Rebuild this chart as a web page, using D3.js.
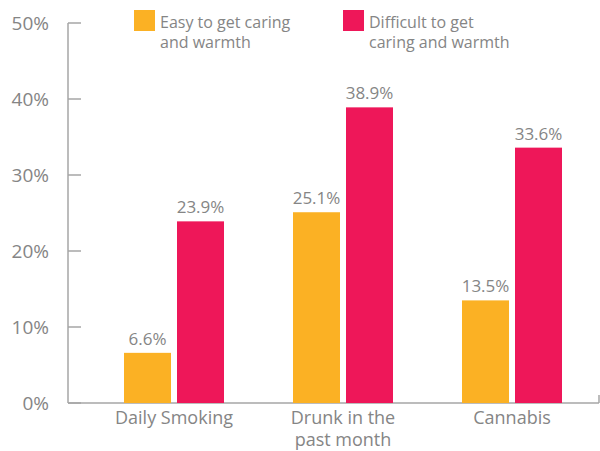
<!DOCTYPE html>
<html>
<head>
<meta charset="utf-8">
<script src="https://cdn.jsdelivr.net/npm/d3@7"></script>
<style>
  body { margin: 0; background: #fff; }
  svg text { font-family: "Open Sans", sans-serif; fill: #858585; }
</style>
</head>
<body>
<svg id="chart" width="600" height="451"></svg>
<script>
// data
const categories = [["Daily Smoking"], ["Drunk in the", "past month"], ["Cannabis"]];
const seriesNames = [["Easy to get caring", "and warmth"], ["Difficult to get", "caring and warmth"]];
const easyValues = [6.6, 25.1, 13.5];
const difficultValues = [23.9, 38.9, 33.6];
const yTicks = [0, 10, 20, 30, 40, 50];
const colors = ["#fbb124", "#ee1759"];

const svg = d3.select("#chart");
const catKeys = categories.map(c => c.join(" "));

const y = d3.scaleLinear().domain([0, 50]).range([403, 23]);
const x0 = d3.scaleBand().domain(catKeys).range([89.5, 596.5]);
const x1 = d3.scaleBand().domain([0, 1]).range([0, 100]).paddingInner(6 / 53);
const offset = (x0.bandwidth() - 100) / 2;

// axes
svg.append("line")
  .attr("x1", 68).attr("x2", 68)
  .attr("y1", y(50)).attr("y2", y(0))
  .attr("stroke", "#a6a6a6").attr("stroke-width", 1.5);
svg.append("line")
  .attr("x1", 68).attr("x2", 599)
  .attr("y1", y(0)).attr("y2", y(0))
  .attr("stroke", "#a6a6a6").attr("stroke-width", 1.5);
svg.append("line")
  .attr("x1", 599).attr("x2", 599)
  .attr("y1", y(0) - 8).attr("y2", y(0))
  .attr("stroke", "#a6a6a6").attr("stroke-width", 1.5);

const tick = svg.selectAll(".ytick")
  .data(yTicks)
  .join("g")
  .attr("class", "ytick")
  .attr("transform", d => `translate(0, ${y(d)})`);
tick.append("line")
  .attr("x1", 68).attr("x2", 81)
  .attr("stroke", "#a6a6a6").attr("stroke-width", 1.5);
tick.append("text")
  .attr("x", 49)
  .attr("dy", "0.35em")
  .attr("text-anchor", "end")
  .attr("font-size", "19px")
  .text(d => d + "%");

// bars
const rows = catKeys.map((k, i) => ({ key: k, values: [easyValues[i], difficultValues[i]] }));
const group = svg.selectAll(".group")
  .data(rows)
  .join("g")
  .attr("class", "group")
  .attr("transform", d => `translate(${x0(d.key) + offset}, 0)`);

group.selectAll("rect")
  .data(d => d.values.map((v, j) => ({ v, j })))
  .join("rect")
  .attr("x", d => x1(d.j))
  .attr("y", d => y(d.v))
  .attr("width", x1.bandwidth())
  .attr("height", d => y(0) - y(d.v))
  .attr("fill", d => colors[d.j]);

group.selectAll(".val")
  .data(d => d.values.map((v, j) => ({ v, j })))
  .join("text")
  .attr("class", "val")
  .attr("x", d => x1(d.j) + x1.bandwidth() / 2)
  .attr("y", d => y(d.v) - 8)
  .attr("text-anchor", "middle")
  .attr("font-size", "17px")
  .text(d => d.v.toFixed(1) + "%");

// category labels
const cat = svg.selectAll(".cat")
  .data(categories)
  .join("text")
  .attr("class", "cat")
  .attr("x", (d, i) => x0(catKeys[i]) + x0.bandwidth() / 2)
  .attr("y", 424)
  .attr("text-anchor", "middle")
  .attr("font-size", "18px");
cat.selectAll("tspan")
  .data(d => d)
  .join("tspan")
  .attr("x", function() { return d3.select(this.parentNode).attr("x"); })
  .attr("dy", (d, i) => i === 0 ? 0 : 22)
  .text(d => d);

// legend
const legendX = [134, 343];
const legend = svg.selectAll(".legend-item")
  .data(seriesNames)
  .join("g")
  .attr("class", "legend-item")
  .attr("transform", (d, i) => `translate(${legendX[i]}, 10)`);
legend.append("rect")
  .attr("width", 21).attr("height", 21)
  .attr("fill", (d, i) => colors[i]);
const lt = legend.append("text")
  .attr("x", 26).attr("y", 18)
  .attr("font-size", "16px");
lt.selectAll("tspan")
  .data(d => d)
  .join("tspan")
  .attr("x", 26)
  .attr("dy", (d, i) => i === 0 ? 0 : 20)
  .text(d => d);
</script>
</body>
</html>
